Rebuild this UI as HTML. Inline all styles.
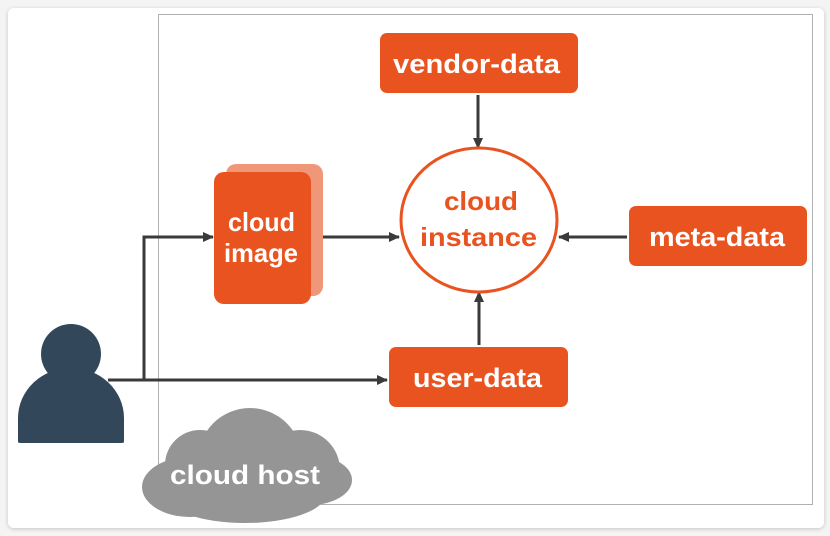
<!DOCTYPE html>
<html><head><style>
body{margin:0;width:830px;height:536px;background:#f4f4f4;overflow:hidden}
svg{position:absolute;left:0;top:0}
text{font-family:"Liberation Sans",sans-serif;font-weight:bold}
</style></head><body>
<svg width="830" height="536" viewBox="0 0 830 536">
<defs>
<marker id="a" markerWidth="14" markerHeight="14" refX="10" refY="6" orient="auto" markerUnits="userSpaceOnUse"><path d="M0,1 L11,6 L0,11 z" fill="#3a3a3a"/></marker>
<filter id="s" x="-5%" y="-5%" width="110%" height="110%"><feDropShadow dx="0" dy="1" stdDeviation="2" flood-color="#000" flood-opacity="0.2"/></filter>
</defs>
<rect x="8" y="8" width="816" height="520" rx="6" fill="#fff" filter="url(#s)"/>
<rect x="158.5" y="14.5" width="654" height="490" fill="none" stroke="#b0b0b0" stroke-width="1"/>
<!-- cloud host -->
<g fill="#959595">
<circle cx="250" cy="460" r="52"/>
<circle cx="200" cy="465" r="35"/>
<circle cx="300" cy="470" r="40"/>
<ellipse cx="190" cy="487" rx="48" ry="30"/>
<ellipse cx="310" cy="480" rx="42" ry="25"/>
<ellipse cx="245" cy="495" rx="80" ry="28"/>
</g>
<text x="170" y="484" font-size="27" fill="#fff" textLength="150" lengthAdjust="spacingAndGlyphs">cloud host</text>
<!-- person -->
<circle cx="71" cy="354" r="30" fill="#33475b"/>
<path d="M18,442 L18,418 A53,50 0 0 1 124,418 L124,442 Q124,443 120,443 L22,443 Q18,443 18,442z" fill="#33475b"/>
<!-- lines -->
<g stroke="#3a3a3a" stroke-width="3" fill="none">
<path d="M108,380 L387,380" marker-end="url(#a)"/>
<path d="M144,380 L144,237 L213,237" marker-end="url(#a)"/>
<path d="M316,237 L399,237" marker-end="url(#a)"/>
<path d="M627,237 L559,237" marker-end="url(#a)"/>
<path d="M478,95 L478,148" marker-end="url(#a)"/>
<path d="M479,345 L479,292" marker-end="url(#a)"/>
</g>
<!-- cloud image -->
<rect x="226" y="164" width="97" height="132" rx="10" fill="#f0977a"/>
<rect x="214" y="172" width="97" height="132" rx="10" fill="#e8531f"/>
<text x="228" y="231" font-size="26" fill="#fff" textLength="67" lengthAdjust="spacingAndGlyphs">cloud</text>
<text x="224" y="262" font-size="26" fill="#fff" textLength="74" lengthAdjust="spacingAndGlyphs">image</text>
<!-- instance -->
<ellipse cx="479" cy="220" rx="78" ry="72" fill="#fff" stroke="#e8531f" stroke-width="3"/>
<text x="444" y="210" font-size="26" fill="#e8531f" textLength="74" lengthAdjust="spacingAndGlyphs">cloud</text>
<text x="420" y="246" font-size="26" fill="#e8531f" textLength="117" lengthAdjust="spacingAndGlyphs">instance</text>
<!-- boxes -->
<rect x="380" y="33" width="198" height="60" rx="7" fill="#e8531f"/>
<text x="393" y="73" font-size="27" fill="#fff" textLength="167" lengthAdjust="spacingAndGlyphs">vendor-data</text>
<rect x="629" y="206" width="178" height="60" rx="7" fill="#e8531f"/>
<text x="649" y="246" font-size="27" fill="#fff" textLength="136" lengthAdjust="spacingAndGlyphs">meta-data</text>
<rect x="389" y="347" width="179" height="60" rx="7" fill="#e8531f"/>
<text x="413" y="387" font-size="27" fill="#fff" textLength="129" lengthAdjust="spacingAndGlyphs">user-data</text>
</svg>
</body></html>
